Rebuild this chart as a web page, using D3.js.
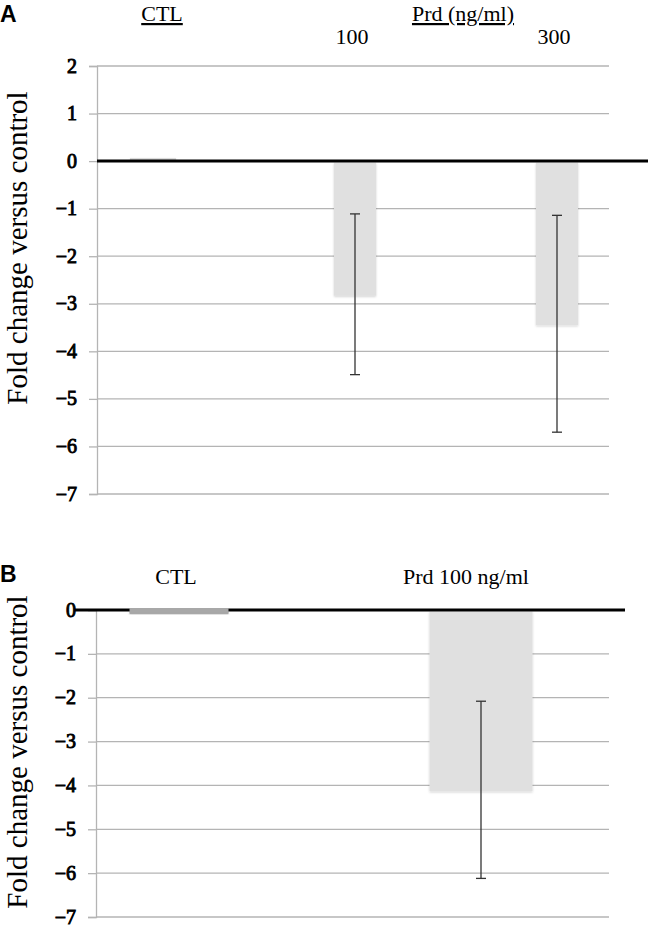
<!DOCTYPE html>
<html><head><meta charset="utf-8">
<script src="https://cdn.jsdelivr.net/npm/d3@7"></script>
<style>
html,body{margin:0;padding:0;background:#fff;}
svg{display:block;}
svg text{font-family:"Liberation Serif","Times New Roman",Times,serif;}
svg text.sans{font-family:"Liberation Sans",Arial,Helvetica,sans-serif;}
</style>
</head><body>
<svg id="chart" width="650" height="928"></svg>
<script>
// ---------- data ----------
const panelACategories = ["CTL", "100", "300"];
const panelAValues = [0.06, -2.8, -3.42];
const panelAErrors = [0, 1.69, 2.28];
const panelATicks = [2, 1, 0, -1, -2, -3, -4, -5, -6, -7];
const panelAHeaderGroup = "Prd (ng/ml)";

const panelBCategories = ["CTL", "Prd 100 ng/ml"];
const panelBValues = [-0.06, -4.1];
const panelBErrors = [0, 2.02];
const panelBTicks = [0, -1, -2, -3, -4, -5, -6, -7];

const yTitle = "Fold change versus control";

// ---------- drawing ----------
const svg = d3.select("#chart");
const fmt = v => (v < 0 ? "\u2212" + Math.abs(v) : String(v));

const defs = svg.append("defs");
const f = defs.append("filter").attr("id", "shadow").attr("x", "-20%").attr("y", "-20%").attr("width", "140%").attr("height", "140%");
f.append("feDropShadow").attr("dx", 0).attr("dy", 1).attr("stdDeviation", 1).attr("flood-color", "#000").attr("flood-opacity", 0.18);

function drawPanel(opt) {
  const g = svg.append("g");
  const y = d3.scaleLinear().domain(opt.domain).range(opt.yRange);
  const x = d3.scalePoint().domain(opt.categories).range(opt.xRange);

  // gridlines
  g.selectAll(".grid").data(opt.ticks.filter(t => t !== 0)).enter().append("line")
    .attr("x1", opt.axisX).attr("x2", opt.gridEnd)
    .attr("y1", d => y(d)).attr("y2", d => y(d))
    .attr("stroke", "#b4b4b4").attr("stroke-width", 1.3);

  // y axis using d3.axisLeft
  const axis = d3.axisLeft(y).tickValues(opt.ticks).tickSize(8).tickPadding(12).tickFormat(fmt);
  const ag = g.append("g").attr("transform", `translate(${opt.axisX},0)`).call(axis);
  ag.attr("font-family", null).attr("font-size", null);
  ag.select(".domain").attr("stroke", "#b4b4b4").attr("stroke-width", 1.3);
  ag.selectAll(".tick line").attr("stroke", "#b4b4b4").attr("stroke-width", 1.3);
  ag.selectAll(".tick text")
    .attr("font-size", 20).attr("fill", "#000")
    .attr("stroke", "#000").attr("stroke-width", 0.9).attr("dy", "0.3em");

  // bars
  const bars = opt.categories.map((c, i) => ({c, v: opt.values[i], e: opt.errors[i], w: opt.widths[i], fill: opt.fills[i]}));
  g.selectAll(".bar").data(bars).enter().append("rect")
    .attr("x", d => x(d.c) - d.w / 2).attr("width", d => d.w)
    .attr("y", d => Math.min(y(0), y(d.v)) + (d.v < 0 ? 1.5 : 0))
    .attr("height", d => Math.abs(y(d.v) - y(0)))
    .attr("fill", d => d.fill)
    .attr("filter", "url(#shadow)");

  // zero line
  g.append("line").attr("x1", opt.zeroStart).attr("x2", opt.zeroEnd)
    .attr("y1", y(0)).attr("y2", y(0)).attr("stroke", "#000").attr("stroke-width", 3);

  // bar that sits on the zero line drawn over it
  if (opt.overlay) {
    const d = bars[0];
    g.append("rect").attr("x", x(d.c) - d.w / 2).attr("width", d.w)
      .attr("y", y(0) - 2).attr("height", Math.abs(y(d.v) - y(0)) + 2)
      .attr("fill", d.fill);
  }

  // error bars
  const eb = bars.filter(d => d.e > 0);
  const eg = g.selectAll(".err").data(eb).enter().append("g").attr("stroke", "#333").attr("stroke-width", 1.3);
  eg.append("line").attr("x1", d => x(d.c)).attr("x2", d => x(d.c))
    .attr("y1", d => y(d.v + d.e)).attr("y2", d => y(d.v - d.e));
  eg.append("line").attr("x1", d => x(d.c) - 5).attr("x2", d => x(d.c) + 5)
    .attr("y1", d => y(d.v + d.e)).attr("y2", d => y(d.v + d.e));
  eg.append("line").attr("x1", d => x(d.c) - 5).attr("x2", d => x(d.c) + 5)
    .attr("y1", d => y(d.v - d.e)).attr("y2", d => y(d.v - d.e));

  // y title
  g.append("text").attr("transform", `translate(${opt.titleX},${opt.titleY}) rotate(-90)`)
    .attr("text-anchor", "middle").attr("font-size", 29)
    .attr("fill", "#000").text(yTitle);

  return {g, x, y};
}

// Panel A
const A = drawPanel({
  categories: panelACategories, values: panelAValues, errors: panelAErrors,
  ticks: panelATicks, domain: [-7, 2], yRange: [494, 66], xRange: [153, 557],
  widths: [46, 42, 42], fills: ["#d2d2d2", "#e0e0e0", "#e0e0e0"],
  axisX: 97, gridEnd: 609, zeroStart: 97, zeroEnd: 648,
  titleX: 27, titleY: 248, overlay: false
});
svg.append("text").attr("class", "sans").attr("x", 0).attr("y", 22).attr("font-weight", "bold")
  .attr("font-size", 23).text("A");
const hA = svg.append("g").attr("font-size", 22).attr("fill", "#000");
hA.append("text").attr("x", A.x("CTL") + 9).attr("y", 21).attr("text-anchor", "middle")
  .attr("text-decoration", "underline").text("CTL");
hA.append("text").attr("x", (A.x("100") + A.x("300")) / 2 + 7).attr("y", 21).attr("text-anchor", "middle")
  .attr("text-decoration", "underline").text(panelAHeaderGroup);
hA.selectAll(".sub").data(panelACategories.slice(1)).enter().append("text")
  .attr("x", d => A.x(d) - 3).attr("y", 44).attr("text-anchor", "middle").text(d => d);

// Panel B
const B = drawPanel({
  categories: panelBCategories, values: panelBValues, errors: panelBErrors,
  ticks: panelBTicks, domain: [-7, 0], yRange: [917, 610], xRange: [179, 481],
  widths: [99, 103], fills: ["#a8a8a8", "#e0e0e0"],
  axisX: 96, gridEnd: 609, zeroStart: 75, zeroEnd: 625,
  titleX: 27, titleY: 752, overlay: true
});
svg.append("text").attr("class", "sans").attr("x", 0).attr("y", 582).attr("font-weight", "bold")
  .attr("font-size", 23).text("B");
const hB = svg.append("g").attr("font-size", 22).attr("fill", "#000");
hB.selectAll(".hb").data(panelBCategories).enter().append("text")
  .attr("x", (d, i) => B.x(d) + (i === 0 ? -3 : -15)).attr("y", 584).attr("text-anchor", "middle").text(d => d);
</script>
</body></html>
